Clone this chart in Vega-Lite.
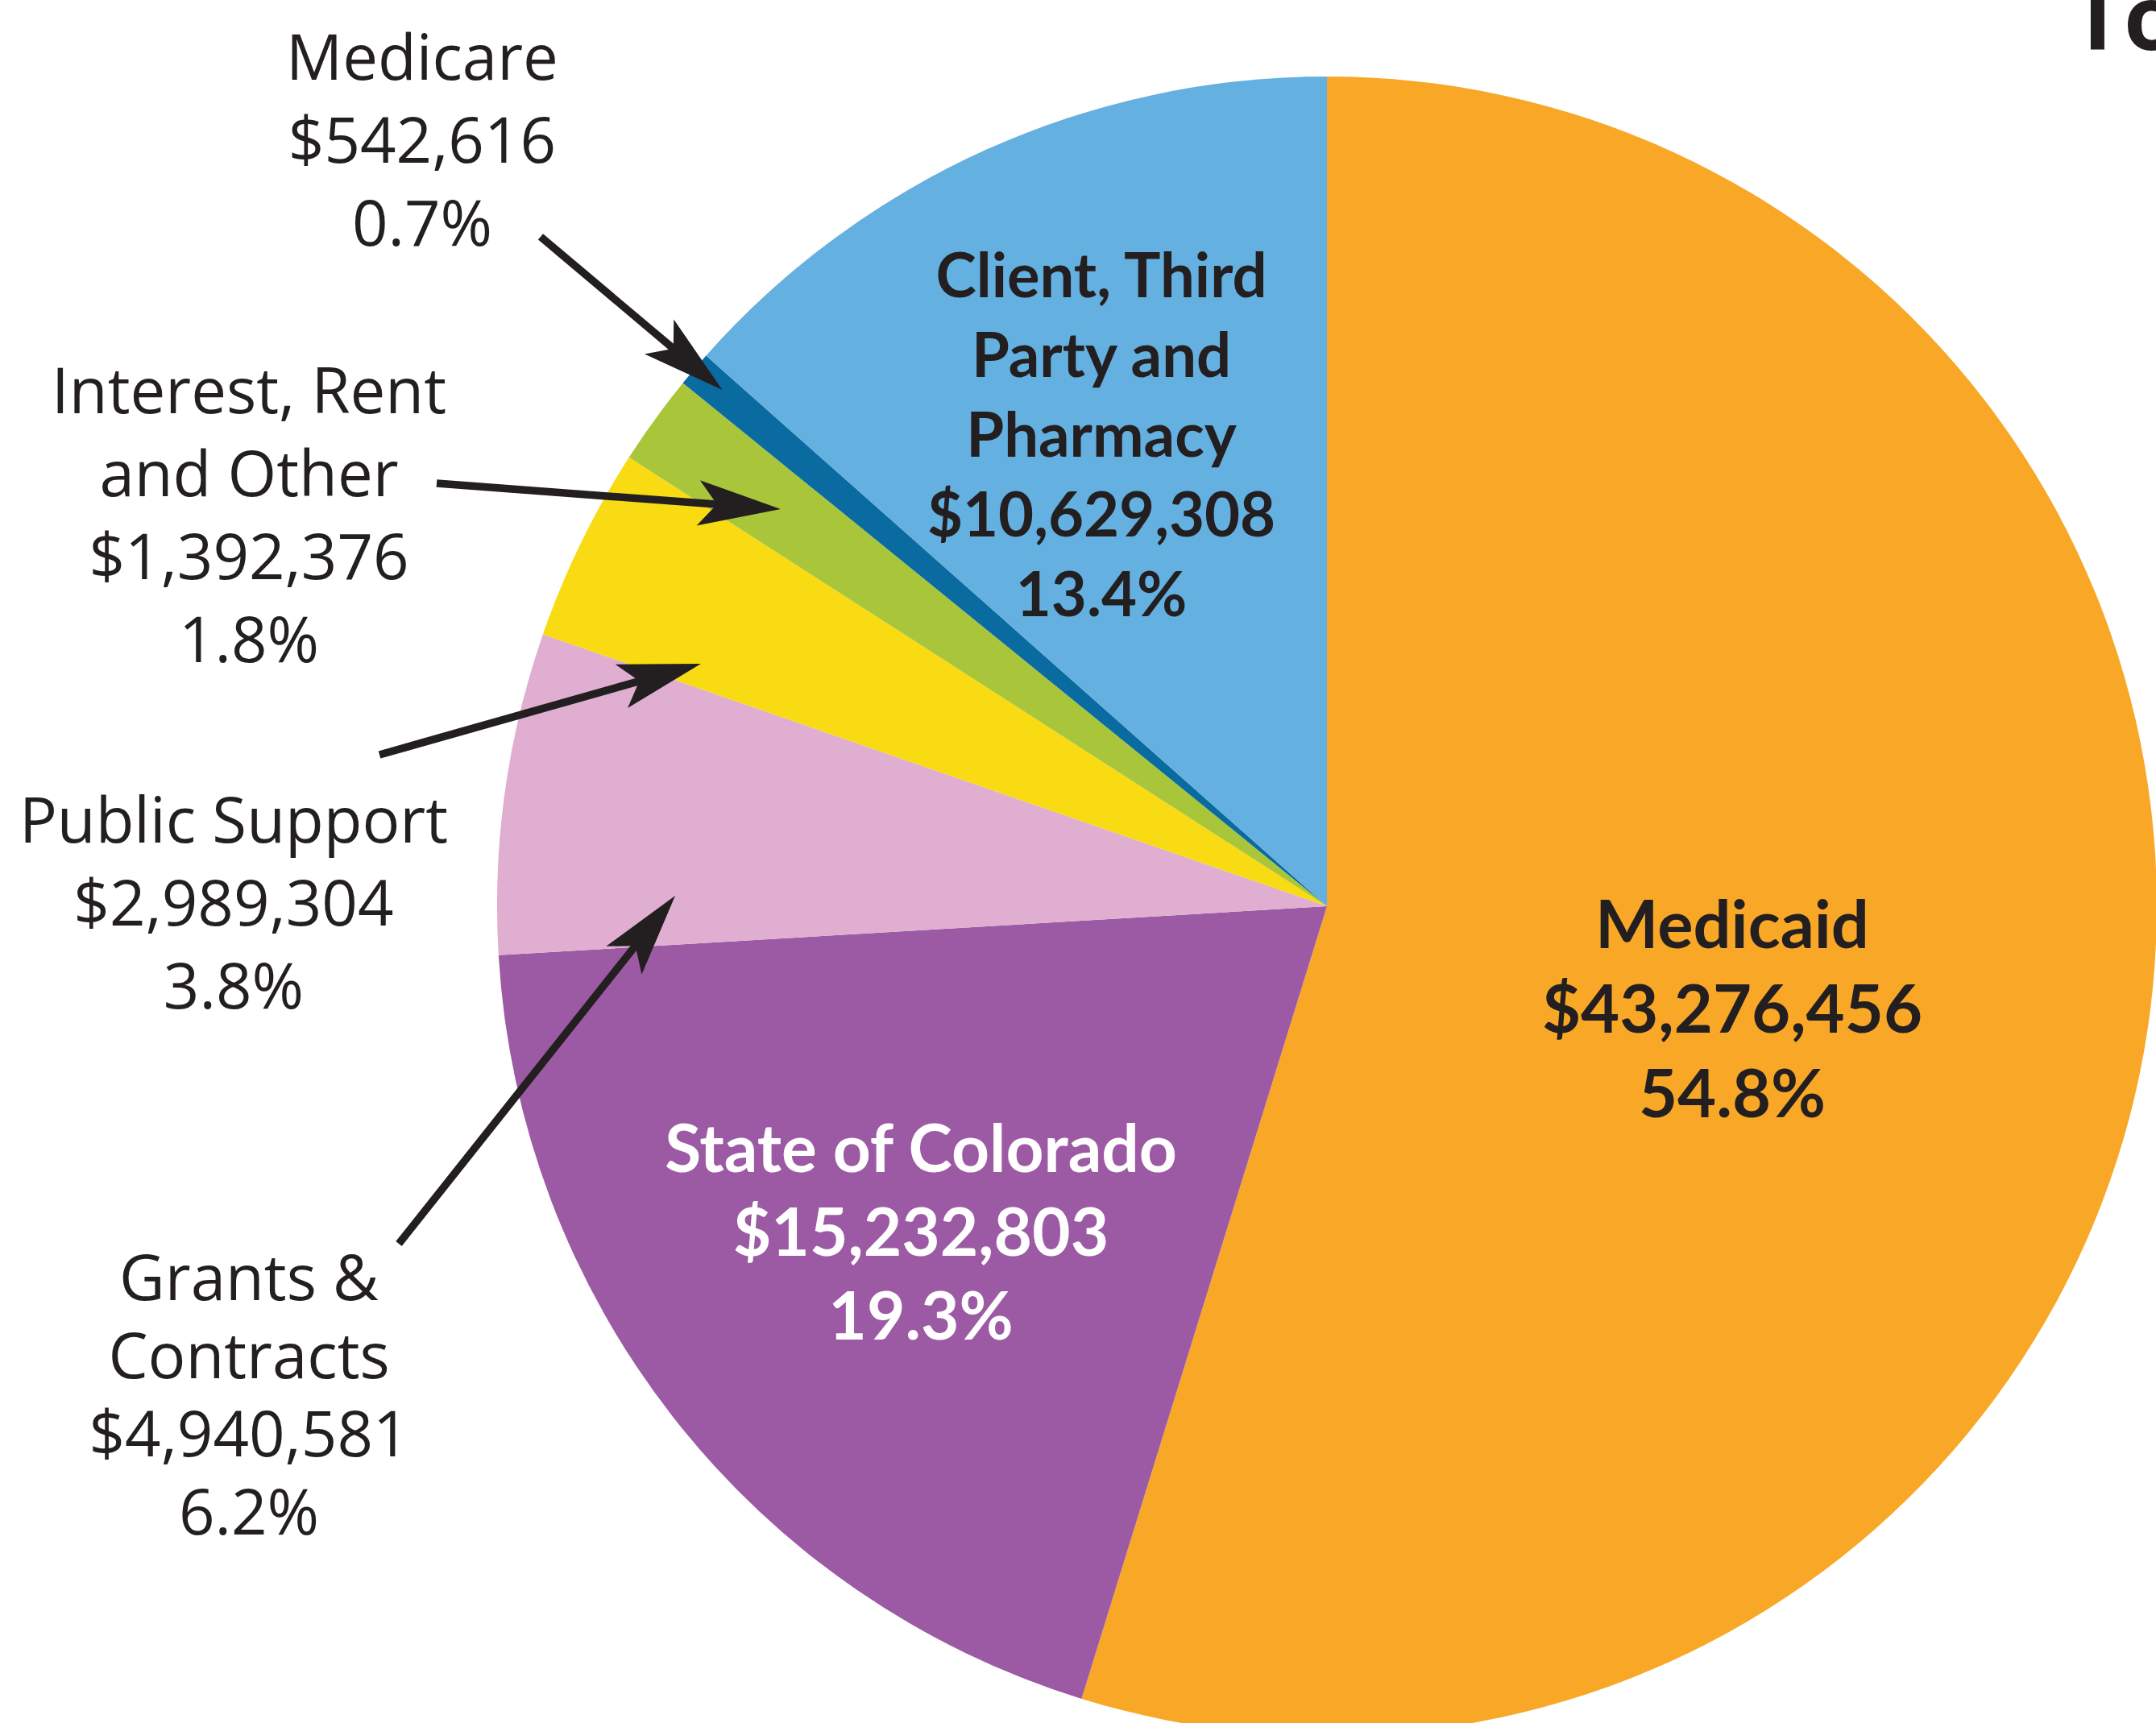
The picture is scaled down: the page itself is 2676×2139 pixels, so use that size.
{
  "$schema": "https://vega.github.io/schema/vega-lite/v6.json",
  "width": 2676,
  "height": 2139,
  "padding": 0,
  "autosize": {"type": "none"},
  "background": "white",
  "config": {"view": {"stroke": null}},
  "datasets": {
    "slices": [
      {"source": "Medicaid", "amount": 43276456, "idx": 1},
      {"source": "State of Colorado", "amount": 15232803, "idx": 2},
      {"source": "Grants & Contracts", "amount": 4940581, "idx": 3},
      {"source": "Public Support", "amount": 2989304, "idx": 4},
      {"source": "Interest, Rent and Other", "amount": 1392376, "idx": 5},
      {"source": "Medicare", "amount": 542616, "idx": 6},
      {"source": "Client, Third Party and Pharmacy", "amount": 10629308, "idx": 7}
    ],
    "outside": [
      {"source": "Medicare", "lines": ["Medicare", "$542,616", "0.7%"], "u": -1.0903, "v": 1.0184},
      {"source": "Interest, Rent and Other", "lines": ["Interest, Rent", "and Other", "$1,392,376", "1.8%"], "u": -1.299, "v": 0.6165},
      {"source": "Public Support", "lines": ["Public Support", "$2,989,304", "3.8%"], "u": -1.3175, "v": 0.099}
    ],
    "grants": [
      {"source": "Grants & Contracts", "lines": ["Grants &", "Contracts", "$4,940,581", "6.2%"], "u": -1.299, "v": -0.4524}
    ],
    "client": [
      {"source": "Client, Third Party and Pharmacy", "lines": ["Client, Third", "Party and", "Pharmacy", "$10,629,308", "13.4%"], "u": -0.2718, "v": 0.7563}
    ],
    "medicaid": [
      {"source": "Medicaid", "lines": ["Medicaid", "$43,276,456", "54.8%"], "u": 0.4883, "v": -0.0262}
    ],
    "state": [
      {"source": "State of Colorado", "lines": ["State of Colorado", "$15,232,803", "19.3%"], "u": -0.4893, "v": -0.2961}
    ],
    "arrows": [
      {"source": "Medicare", "u0": -0.9476, "v0": 0.8068, "u1": -0.7657, "v1": 0.6536, "tu": -0.7286, "tv": 0.6223, "angle": 130.1},
      {"source": "Interest, Rent and Other", "u0": -1.0728, "v0": 0.5097, "u1": -0.7067, "v1": 0.4822, "tu": -0.6583, "tv": 0.4786, "angle": 94.3},
      {"source": "Public Support", "u0": -1.1417, "v0": 0.1825, "u1": -0.8011, "v1": 0.279, "tu": -0.7544, "tv": 0.2922, "angle": 74.2},
      {"source": "Grants & Contracts", "u0": -1.1184, "v0": -0.4068, "u1": -0.8156, "v1": -0.0254, "tu": -0.7854, "tv": 0.0126, "angle": 38.4}
    ],
    "heading": [
      {"text": "To", "u": 0.8971, "v": 1.032}
    ]
  },
  "layer": [
    {
      "data": {"name": "slices"},
      "mark": {"type": "arc", "outerRadius": 1030},
      "encoding": {
        "x": {"datum": 0, "type": "quantitative", "scale": {"domain": [-1.599, 0.999], "nice": false, "zero": false}, "axis": null},
        "y": {"datum": 0, "type": "quantitative", "scale": {"domain": [-0.9845, 1.0922], "nice": false, "zero": false}, "axis": null},
        "theta": {"field": "amount", "type": "quantitative", "stack": true},
        "order": {"field": "idx", "type": "quantitative"},
        "color": {
          "field": "source", "type": "nominal", "legend": null,
          "scale": {
            "domain": ["Medicaid", "State of Colorado", "Grants & Contracts", "Public Support", "Interest, Rent and Other", "Medicare", "Client, Third Party and Pharmacy"],
            "range": ["#F8A826", "#9D5AA4", "#DFAED0", "#F8DB12", "#A9C63A", "#0A6BA0", "#64B0E0"]
          }
        }
      }
    },
    {
      "data": {"name": "outside"},
      "mark": {"type": "text", "font": "Open Sans", "fontSize": 78, "lineHeight": 103, "align": "center", "baseline": "middle", "color": "#231F20"},
      "encoding": {
        "x": {"field": "u", "type": "quantitative", "axis": null},
        "y": {"field": "v", "type": "quantitative", "axis": null},
        "text": {"field": "lines"}
      }
    },
    {
      "data": {"name": "grants"},
      "mark": {"type": "text", "font": "Open Sans", "fontSize": 78, "lineHeight": 97, "align": "center", "baseline": "middle", "color": "#231F20"},
      "encoding": {
        "x": {"field": "u", "type": "quantitative", "axis": null},
        "y": {"field": "v", "type": "quantitative", "axis": null},
        "text": {"field": "lines"}
      }
    },
    {
      "data": {"name": "client"},
      "mark": {"type": "text", "font": "Lato", "fontWeight": "bold", "fontSize": 76, "lineHeight": 99, "align": "center", "baseline": "middle", "color": "#231F20"},
      "encoding": {
        "x": {"field": "u", "type": "quantitative", "axis": null},
        "y": {"field": "v", "type": "quantitative", "axis": null},
        "text": {"field": "lines"}
      }
    },
    {
      "data": {"name": "medicaid"},
      "mark": {"type": "text", "font": "Lato", "fontWeight": "bold", "fontSize": 83, "lineHeight": 105, "align": "center", "baseline": "middle", "color": "#231F20"},
      "encoding": {
        "x": {"field": "u", "type": "quantitative", "axis": null},
        "y": {"field": "v", "type": "quantitative", "axis": null},
        "text": {"field": "lines"}
      }
    },
    {
      "data": {"name": "state"},
      "mark": {"type": "text", "font": "Lato", "fontWeight": "bold", "fontSize": 82, "lineHeight": 104, "align": "center", "baseline": "middle", "color": "#FFFFFF"},
      "encoding": {
        "x": {"field": "u", "type": "quantitative", "axis": null},
        "y": {"field": "v", "type": "quantitative", "axis": null},
        "text": {"field": "lines"}
      }
    },
    {
      "data": {"name": "arrows"},
      "mark": {"type": "rule", "strokeWidth": 9.5, "color": "#231F20", "strokeCap": "butt"},
      "encoding": {
        "x": {"field": "u0", "type": "quantitative", "axis": null},
        "y": {"field": "v0", "type": "quantitative", "axis": null},
        "x2": {"field": "u1"},
        "y2": {"field": "v1"}
      }
    },
    {
      "data": {"name": "arrows"},
      "mark": {"type": "point", "shape": "M0,0 L0.55,2 L0,1.55 L-0.55,2 Z", "filled": true, "color": "#231F20", "opacity": 1, "size": 10500, "strokeWidth": 0},
      "encoding": {
        "x": {"field": "tu", "type": "quantitative", "axis": null},
        "y": {"field": "tv", "type": "quantitative", "axis": null},
        "angle": {"field": "angle", "type": "quantitative", "scale": null}
      }
    },
    {
      "data": {"name": "heading"},
      "mark": {"type": "text", "font": "Open Sans", "fontWeight": "bold", "fontSize": 112, "align": "left", "baseline": "alphabetic", "color": "#231F20"},
      "encoding": {
        "x": {"field": "u", "type": "quantitative", "axis": null},
        "y": {"field": "v", "type": "quantitative", "axis": null},
        "text": {"field": "text"}
      }
    }
  ]
}
